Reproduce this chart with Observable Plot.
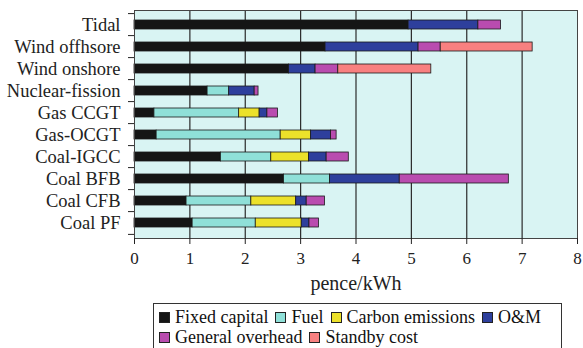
<!DOCTYPE html>
<html>
<head>
<meta charset="utf-8">
<script src="https://cdn.jsdelivr.net/npm/d3@7"></script>
<script src="https://cdn.jsdelivr.net/npm/@observablehq/plot@0.6"></script>
<style>
  html, body { margin: 0; padding: 0; background: #fff; }
  #wrap { position: relative; width: 583px; height: 348px; overflow: hidden; font-family: "Liberation Serif", "Times New Roman", serif; color: #111; }
  #legend { position: absolute; left: 153px; top: 303px; width: 402px; border: 1px solid #333; padding: 3px 0 6px 5px; background: #fff;
            display: flex; flex-wrap: wrap; column-gap: 7px; row-gap: 0px; font-size: 18px; line-height: 20px; }
  .item { display: flex; align-items: center; white-space: nowrap; }
  .sw { width: 9px; height: 9px; border: 1px solid #222; margin-right: 5px; display: inline-block; }
</style>
</head>
<body>
<div id="wrap"><div id="chart"></div><div id="legend"></div></div>
<script>
const categories = ["Tidal", "Wind offhsore", "Wind onshore", "Nuclear-fission", "Gas CCGT", "Gas-OCGT", "Coal-IGCC", "Coal BFB", "Coal CFB", "Coal PF"];
const components = ["Fixed capital", "Fuel", "Carbon emissions", "O&M", "General overhead", "Standby cost"];
const colors = ["#151515", "#8fe0d8", "#ece12a", "#2e3f9c", "#b94caf", "#f88080"];
// values per component, in category order
const fixedCapital    = [4.95, 3.45, 2.79, 1.32, 0.36, 0.40, 1.56, 2.70, 0.94, 1.05];
const fuel            = [0,    0,    0,    0.39, 1.53, 2.24, 0.91, 0.83, 1.17, 1.14];
const carbonEmissions = [0,    0,    0,    0,    0.37, 0.55, 0.68, 0,    0.81, 0.83];
const oAndM           = [1.26, 1.68, 0.48, 0.46, 0.14, 0.36, 0.32, 1.26, 0.19, 0.14];
const generalOverhead = [0.41, 0.40, 0.41, 0.07, 0.19, 0.10, 0.40, 1.97, 0.33, 0.17];
const standbyCost     = [0,    1.66, 1.68, 0,    0,    0,    0,    0,    0,    0];
const xTicks = [0, 1, 2, 3, 4, 5, 6, 7, 8];
const gridTicks = [1, 2, 3, 4, 5, 6, 7];

const series = [fixedCapital, fuel, carbonEmissions, oAndM, generalOverhead, standbyCost];
const data = [];
categories.forEach((c, i) => {
  series.forEach((s, j) => {
    if (s[i] > 0) data.push({tech: c, component: components[j], value: s[i]});
  });
});

const W = 583, H = 300, mL = 134, mR = 6, mT = 10, mB = 62;
const step = (H - mT - mB) / categories.length;
const tickLen = 6 * (xTicks[xTicks.length - 1] - xTicks[0]) / (W - mL - mR);

const chart = Plot.plot({
  width: W, height: H,
  marginLeft: mL, marginRight: mR, marginTop: mT, marginBottom: mB,
  style: {fontFamily: "Liberation Serif, Times New Roman, serif", fontSize: "17px", color: "#222", background: "transparent", overflow: "visible"},
  x: {domain: [0, 8]},
  y: {domain: categories, paddingInner: 0.58, paddingOuter: 0.29},
  color: {domain: components, range: colors},
  marks: [
    Plot.frame({fill: "#d9f4f3", stroke: null}),
    Plot.ruleX(gridTicks, {stroke: "#2a2a2a", strokeWidth: 1.2}),
    Plot.barX(data, {x: "value", y: "tech", fill: "component", stroke: "#1a1a1a", strokeWidth: 0.8, order: null}),
    Plot.frame({stroke: "#444"}),
    Plot.ruleY(categories, {y: d => d, x1: -tickLen, x2: 0, dy: -step / 2, stroke: "#222", clip: false}),
    Plot.ruleY(categories.slice(-1), {y: d => d, x1: -tickLen, x2: 0, dy: step / 2, stroke: "#222", clip: false}),
    Plot.axisY({tickSize: 0, tickPadding: 14, fontSize: 18.5, label: null}),
    Plot.axisX({ticks: xTicks, tickSize: 6, tickPadding: 7, fontSize: 17, label: null}),
    Plot.text(["pence/kWh"], {frameAnchor: "bottom", lineAnchor: "middle", dy: 45, fontSize: 20, fill: "#222"})
  ]
});
document.getElementById("chart").appendChild(chart);

const legend = document.getElementById("legend");
components.forEach((c, j) => {
  const it = document.createElement("span");
  it.className = "item";
  it.innerHTML = `<span class="sw" style="background:${colors[j]}"></span>${c}`;
  legend.appendChild(it);
});
</script>
</body>
</html>
